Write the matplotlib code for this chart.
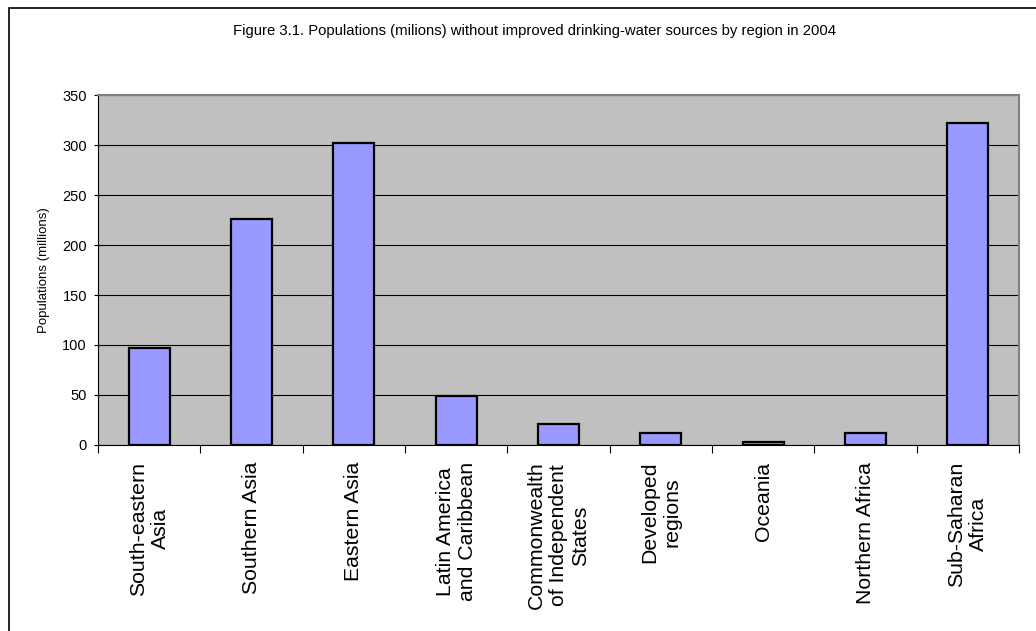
import matplotlib
matplotlib.use("Agg")
import matplotlib.pyplot as plt
from matplotlib.patches import Rectangle
import numpy as np

plt.rcParams['font.family'] = ['Liberation Sans', 'DejaVu Sans']

regiones = ["South-eastern\nAsia", "Southern Asia", "Eastern Asia",
            "Latin America\nand Caribbean", "Commonwealth\nof Independent\nStates",
            "Developed\nregions", "Oceania", "Northern Africa", "Sub-Saharan\nAfrica"]
poblacion = [97, 226, 302, 49, 21, 12, 3, 12, 322]
ticks_y = [0, 50, 100, 150, 200, 250, 300, 350]

fig = plt.figure(figsize=(10.36, 6.31), dpi=100)
ax = fig.add_axes([0.0946, 0.2948, 0.889, 0.5546])

# marco exterior del grafico
fig.patches.append(Rectangle((0.0087, -0.2), 1.2, 1.1873, transform=fig.transFigure,
                             fill=False, edgecolor='black', linewidth=1.2, clip_on=False))

x = np.arange(len(regiones))
ax.set_facecolor('#c0c0c0')
ax.bar(x, poblacion, width=0.4, color='#9999ff', edgecolor='black', linewidth=1.6, zorder=3)

ax.set_xlim(-0.5, len(regiones) - 0.5)
ax.set_ylim(0, 350)
ax.set_yticks(ticks_y)
ax.set_yticklabels([str(t) for t in ticks_y], fontsize=10.5)
ax.yaxis.grid(True, color='black', linewidth=0.8, zorder=1)
ax.set_axisbelow(True)

ax.set_xticks(x)
ax.set_xticklabels(regiones, rotation=90, fontsize=15.3, multialignment='center')
ax.tick_params(axis='x', which='major', length=0, pad=12)
ax.set_xticks(np.arange(len(regiones) + 1) - 0.5, minor=True)
ax.tick_params(axis='x', which='minor', length=6, direction='out', width=0.8)
ax.tick_params(axis='y', length=6, direction='inout', width=0.8, pad=5)

for lado in ['top', 'right']:
    ax.spines[lado].set_color('#808080')
    ax.spines[lado].set_linewidth(1.5)
for lado in ['left', 'bottom']:
    ax.spines[lado].set_color('black')
    ax.spines[lado].set_linewidth(0.8)

ax.set_ylabel("Populations (millions)", fontsize=9.5)
ax.yaxis.set_label_coords(-0.052, 0.5)

fig.text(0.5155, 0.951, "Figure 3.1. Populations (milions) without improved drinking-water sources by region in 2004",
         ha='center', va='center', fontsize=10.7)

fig.savefig("out.png", dpi=100)
